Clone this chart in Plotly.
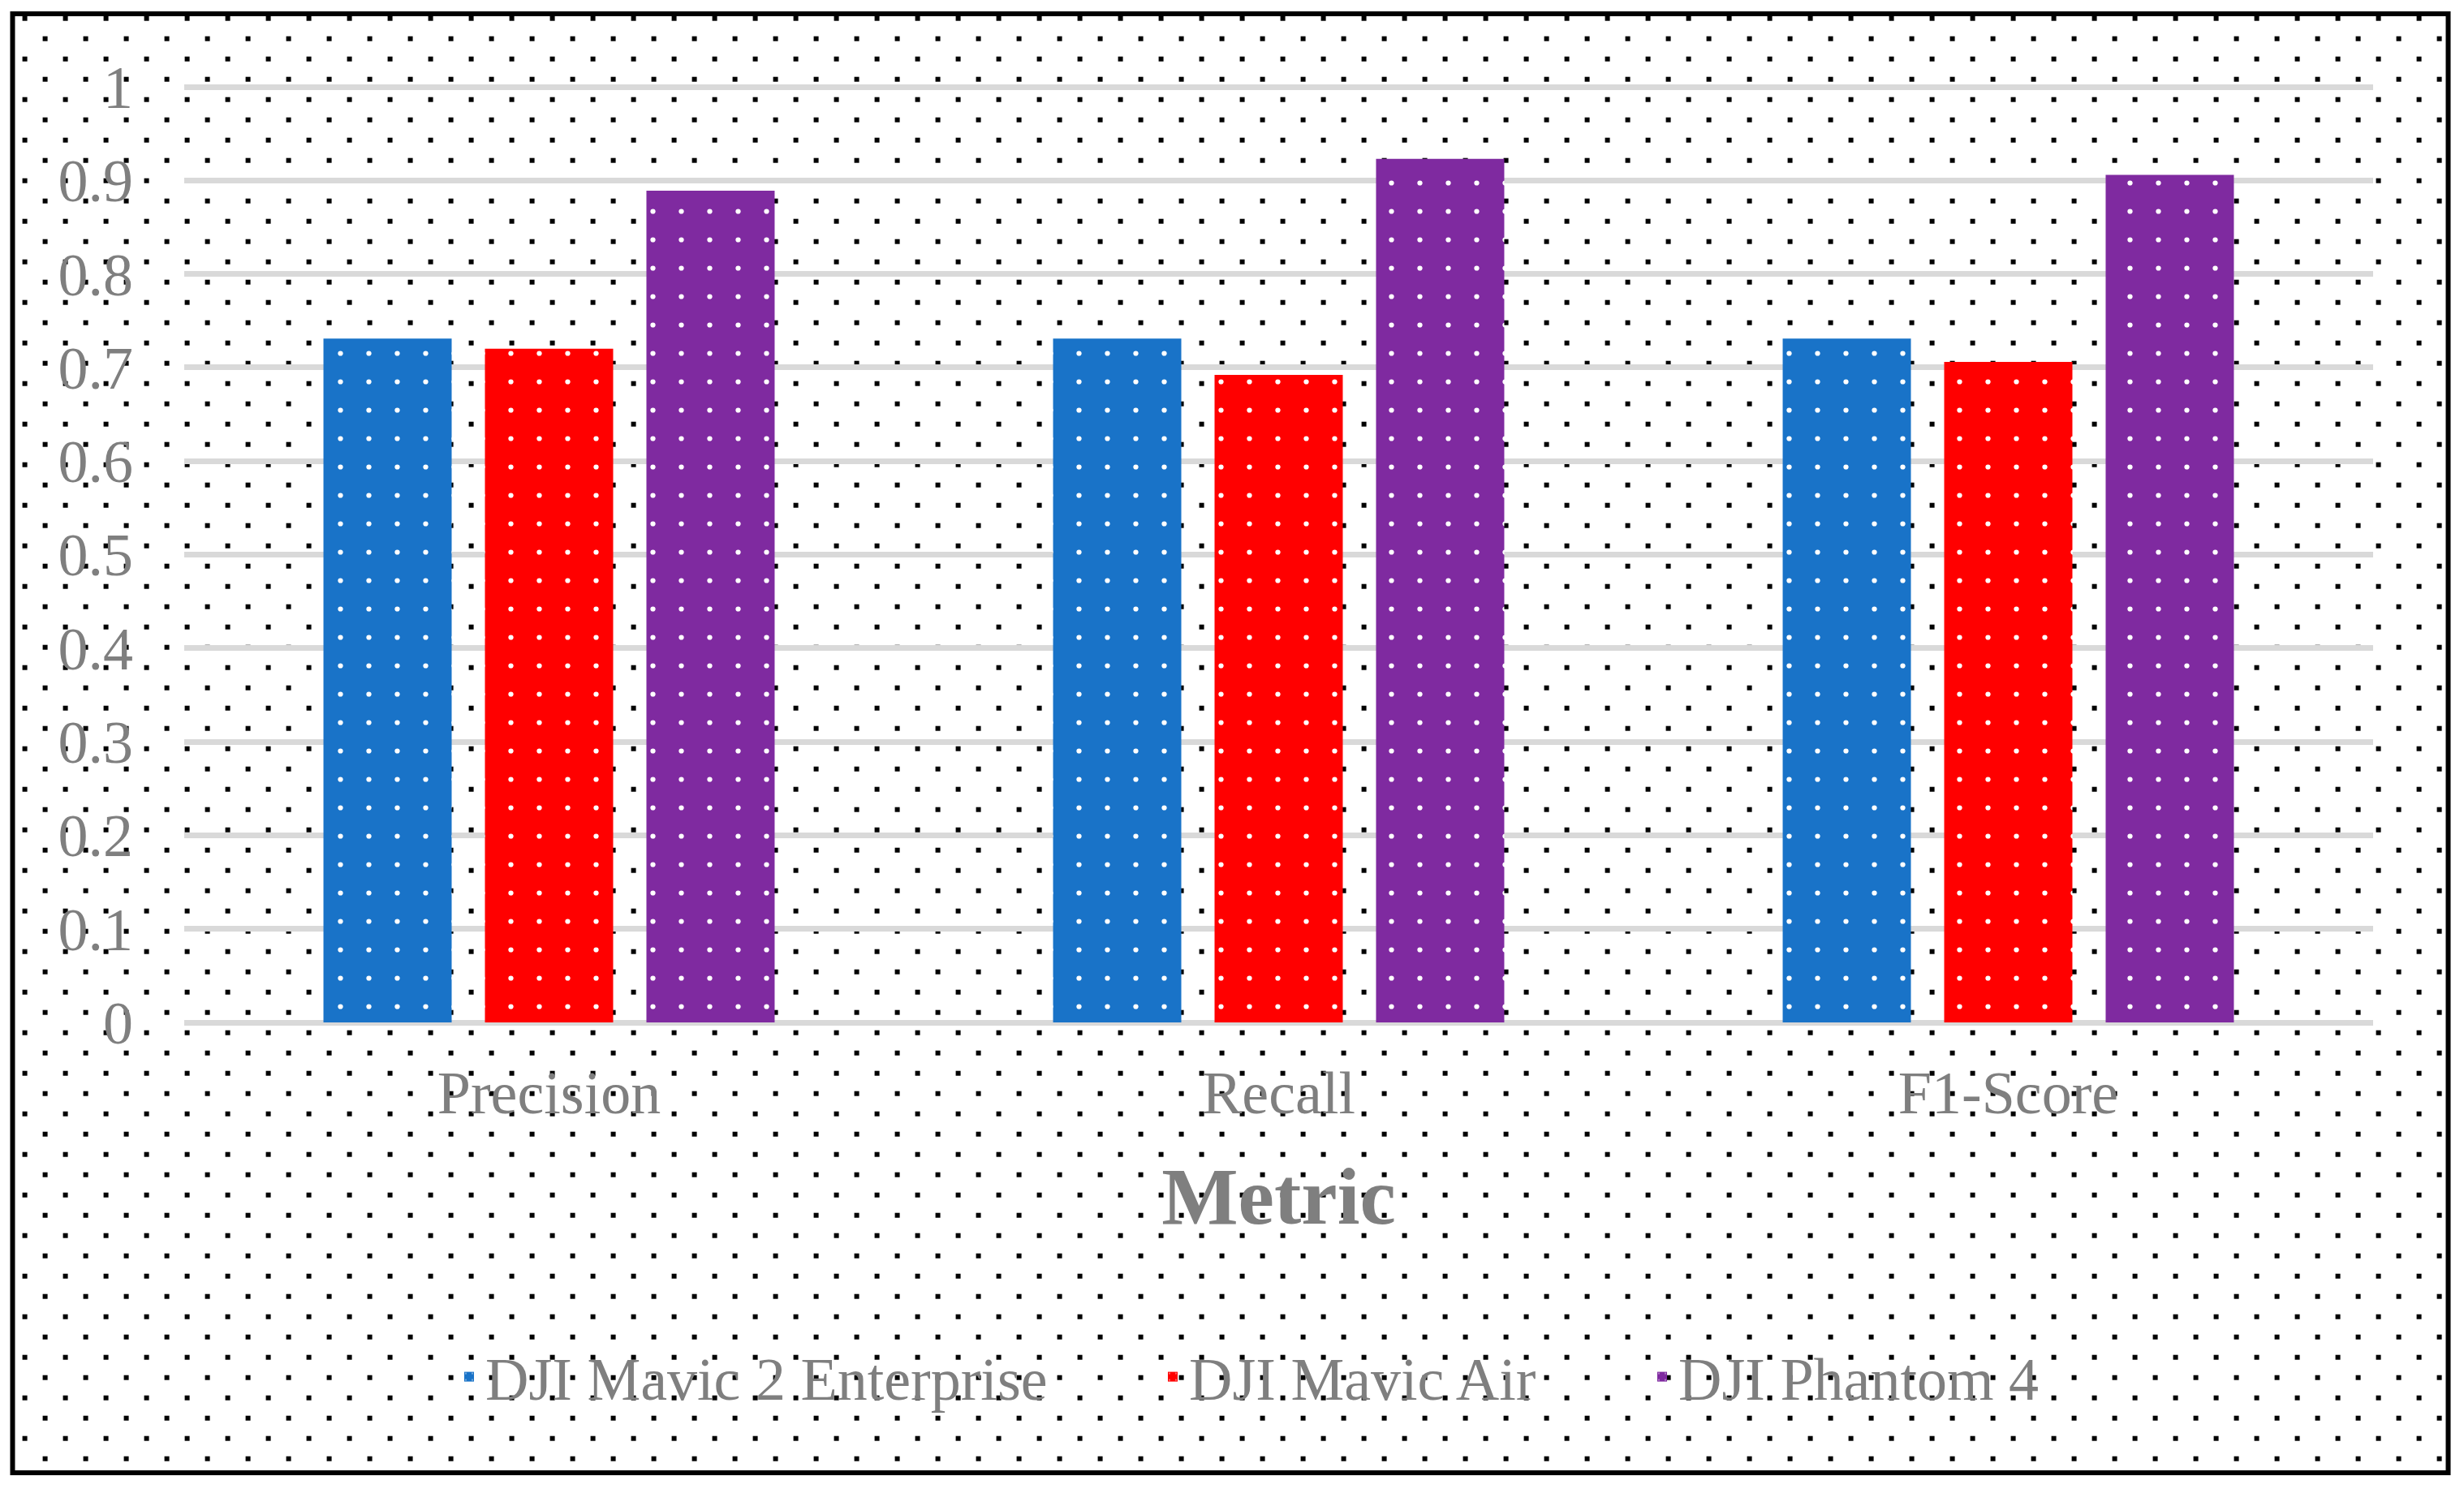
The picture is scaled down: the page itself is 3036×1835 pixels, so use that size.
import base64
import plotly.graph_objects as go

# ---- data ----
metrics = ["Precision", "Recall", "F1-Score"]
series_names = ["DJI Mavic 2 Enterprise", "DJI Mavic Air", "DJI Phantom 4"]
mavic2_enterprise = [0.731, 0.731, 0.731]
mavic_air = [0.720, 0.692, 0.706]
phantom4 = [0.889, 0.923, 0.906]
y_ticks = [0, 0.1, 0.2, 0.3, 0.4, 0.5, 0.6, 0.7, 0.8, 0.9, 1]
y_tick_labels = ["0", "0.1", "0.2", "0.3", "0.4", "0.5", "0.6", "0.7", "0.8", "0.9", "1"]

colors = ["#1973C8", "#FF0000", "#7F2AA0"]
W, H = 3036, 1835
UNIT = 1153.0          # pixels per 1.0 on the y axis
EXTRA = 4.0            # px of headroom so the gridline at 1 is drawn
L, R, B = 227, 112, 575
T = 107 - EXTRA
PW, PH = W - L - R, H - T - B
Y_TOP = 1 + EXTRA / UNIT
FONT = "Liberation Serif"
GRAY = "#7F7F7F"

# background: dotted paper with black frame
svg = (
    f'<svg xmlns="http://www.w3.org/2000/svg" width="{W}" height="{H}" viewBox="0 0 {W} {H}" preserveAspectRatio="none">'
    '<defs><pattern id="d" x="27.6" y="19.7" width="50" height="50" patternUnits="userSpaceOnUse">'
    '<rect x="0" y="0" width="6" height="6" fill="#000"/>'
    '<rect x="25" y="25" width="6" height="6" fill="#000"/></pattern></defs>'
    '<rect x="0" y="0" width="100%" height="100%" fill="#fff"/>'
    '<rect x="18" y="19" width="2995" height="1793" fill="url(#d)"/>'
    '<rect x="15.5" y="17" width="3001" height="1798" fill="none" stroke="#000" stroke-width="6"/>'
    '</svg>'
)
src = "data:image/svg+xml;base64," + base64.b64encode(svg.encode()).decode()

fig = go.Figure()
for i, (name, vals) in enumerate(zip(series_names, [mavic2_enterprise, mavic_air, phantom4])):
    fig.add_trace(go.Bar(
        x=metrics, y=vals, name=name,
        marker=dict(
            color=colors[i],
            line=dict(width=0),
            pattern=dict(shape=".", fgcolor="#FFFFFF", bgcolor=colors[i],
                         fillmode="replace", size=35, solidity=0.025),
        ),
        legend="legend" if i == 0 else f"legend{i+1}",
    ))

legend_y = (1260 - 1697) / PH
legend_common = dict(
    orientation="h", yanchor="middle", xanchor="left", y=legend_y,
    bgcolor="rgba(0,0,0,0)", borderwidth=0,
    font=dict(family=FONT, size=74, color=GRAY),
)
legend_x = [(558 - L) / PW, (1425 - L) / PW, (2028 - L) / PW]

fig.update_layout(
    width=W, height=H,
    template="none",
    margin=dict(l=L, r=R, t=T, b=B, pad=0),
    paper_bgcolor="#FFFFFF",
    plot_bgcolor="rgba(0,0,0,0)",
    font=dict(family=FONT, size=74, color=GRAY),
    barmode="group", bargap=0.336, bargroupgap=0.206,
    showlegend=True,
    legend=dict(x=legend_x[0], **legend_common),
    legend2=dict(x=legend_x[1], **legend_common),
    legend3=dict(x=legend_x[2], **legend_common),
    xaxis=dict(
        showgrid=False, showline=False, zeroline=False, automargin=False,
        ticks="", ticklabelstandoff=37,
        tickfont=dict(family=FONT, size=74, color=GRAY),
        title=dict(text="<b>Metric</b>", standoff=50,
                   font=dict(family=FONT, size=100, color=GRAY)),
    ),
    yaxis=dict(
        range=[0, Y_TOP], tickvals=y_ticks, ticktext=y_tick_labels,
        showgrid=True, gridcolor="#D9D9D9", gridwidth=7,
        zeroline=True, zerolinecolor="#D9D9D9", zerolinewidth=7,
        showline=False, ticks="", automargin=False, ticklabelstandoff=62,
        tickfont=dict(family=FONT, size=74, color=GRAY),
    ),
    images=[dict(
        source=src, xref="paper", yref="paper",
        x=-L / PW, y=(PH + T) / PH, sizex=W / PW, sizey=H / PH,
        xanchor="left", yanchor="top", sizing="stretch", layer="below",
    )],
)

fig.write_html("out.html", config={"displayModeBar": False},
               post_script="document.body.style.margin='0';")
